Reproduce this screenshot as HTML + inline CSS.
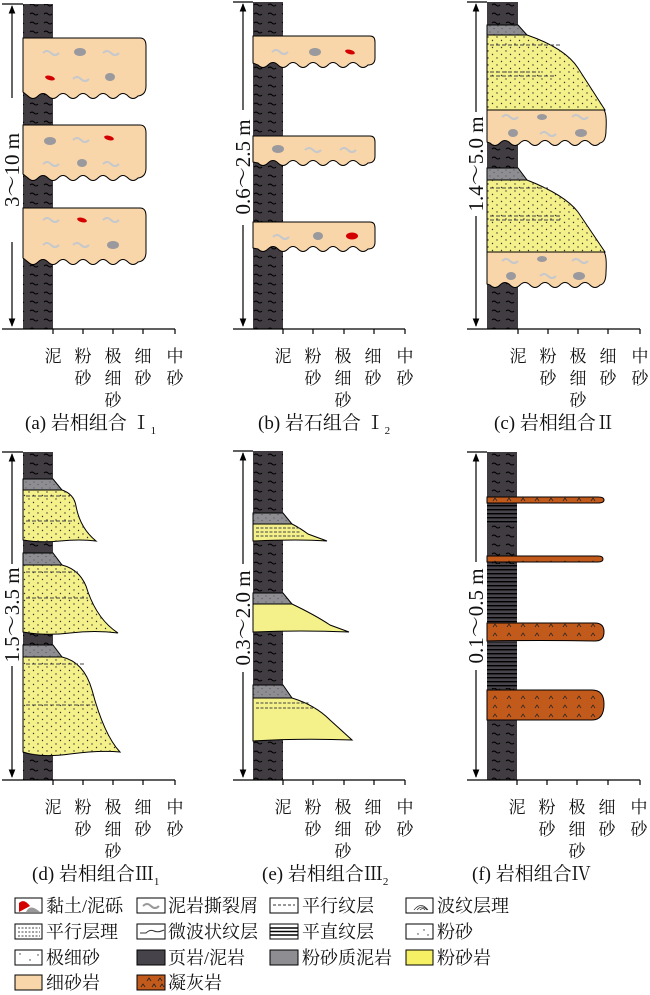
<!DOCTYPE html>
<html><head><meta charset="utf-8"><style>
html,body{margin:0;padding:0;background:#fff}
svg{display:block}
text{font-family:"Liberation Serif","Noto Serif CJK SC",serif;fill:#111}
</style></head><body>
<svg width="650" height="995" viewBox="0 0 650 995" xmlns="http://www.w3.org/2000/svg">
<defs>
<pattern id="sh" width="14" height="9" patternUnits="userSpaceOnUse">
<rect width="14" height="9" fill="#403c42"/>
<path d="M2 5 q2 -2 4 0 t4 0" stroke="#000" stroke-width="1.1" fill="none"/>
</pattern>
<pattern id="dots" width="9" height="7" patternUnits="userSpaceOnUse">
<circle cx="2" cy="2" r="0.7" fill="#333"/><circle cx="6.5" cy="5.5" r="0.7" fill="#333"/>
</pattern>
<pattern id="gd" width="8" height="6" patternUnits="userSpaceOnUse">
<rect width="8" height="6" fill="#8e8d92"/><circle cx="2" cy="2" r="0.6" fill="#555"/><circle cx="6" cy="4.5" r="0.6" fill="#555"/>
</pattern>
<pattern id="tf" width="14" height="9" patternUnits="userSpaceOnUse">
<rect width="14" height="9" fill="#c25a1c"/>
<path d="M3 6 l2 -3 l2 3" stroke="#222" stroke-width="0.7" fill="none"/>
</pattern>
<pattern id="pl" width="10" height="4" patternUnits="userSpaceOnUse">
<rect width="10" height="4" fill="#47434a"/><rect y="1" width="10" height="1.4" fill="#000"/>
</pattern>
<marker id="ah" viewBox="0 0 10 10" refX="9" refY="5" markerWidth="7" markerHeight="7" orient="auto-start-reverse"><path d="M0 1 L10 5 L0 9 Z" fill="#000"/></marker>
</defs>

<g stroke="#000" stroke-width="1">
<rect x="23" y="4" width="30" height="325" fill="url(#sh)" stroke="none"/>
<path d="M23 38 H140 q6 0 6 8 V86 q0 9 -8 10 q-5 5 -10 0 t-10 0 t-10 0 t-10 0 t-10 0 t-10 0 t-10 0 t-10 0 t-10 0 t-10 0 t-10 0 L23 92 Z" fill="#f9d6a9"/>
<path d="M23 125 H140 q6 0 6 8 V168 q0 9 -8 10 q-5 5 -10 0 t-10 0 t-10 0 t-10 0 t-10 0 t-10 0 t-10 0 t-10 0 t-10 0 t-10 0 t-10 0 L23 174 Z" fill="#f9d6a9"/>
<path d="M23 208 H140 q6 0 6 8 V252 q0 9 -8 10 q-5 5 -10 0 t-10 0 t-10 0 t-10 0 t-10 0 t-10 0 t-10 0 t-10 0 t-10 0 t-10 0 t-10 0 L23 258 Z" fill="#f9d6a9"/>
<rect x="253" y="2" width="30" height="327" fill="url(#sh)" stroke="none"/>
<path d="M253 36 H370 q5 0 5 6 V58 q0 7 -7 7 q-5 5 -10 0 t-10 0 t-10 0 t-10 0 t-10 0 t-10 0 t-10 0 t-10 0 t-10 0 t-10 0 t-10 0 L253 63 Z" fill="#f9d6a9"/>
<path d="M253 136 H370 q5 0 5 6 V156 q0 7 -7 7 q-5 5 -10 0 t-10 0 t-10 0 t-10 0 t-10 0 t-10 0 t-10 0 t-10 0 t-10 0 t-10 0 t-10 0 L253 162 Z" fill="#f9d6a9"/>
<path d="M253 222 H370 q5 0 5 6 V242 q0 7 -7 7 q-5 5 -10 0 t-10 0 t-10 0 t-10 0 t-10 0 t-10 0 t-10 0 t-10 0 t-10 0 t-10 0 t-10 0 L253 248 Z" fill="#f9d6a9"/>
<rect x="487" y="2" width="31" height="327" fill="url(#sh)" stroke="none"/>
<path d="M487 25 H518 L527 35 H487 Z" fill="url(#gd)"/>
<path d="M487 35 H527 Q565 48 578 68 L605 110 H487 Z" fill="#f4f08a"/>
<path d="M487 35 H527 Q565 48 578 68 L605 110 H487 Z" fill="url(#dots)" stroke="none"/>
<path d="M490 45 H560 M490 72 H540 M490 76 H555" stroke="#444" stroke-dasharray="4 2"/>
<path d="M487 110 H604 q3 4 2 20 q0 12 -6 13 q-5 5 -10 0 t-10 0 t-10 0 t-10 0 t-10 0 t-10 0 t-10 0 t-10 0 t-10 0 t-10 0 t-10 0 L487 142 Z" fill="#f9d6a9"/>
<path d="M487 168 H518 L527 180 H487 Z" fill="url(#gd)"/>
<path d="M487 180 H527 Q565 195 578 212 L605 252 H487 Z" fill="#f4f08a"/>
<path d="M487 180 H527 Q565 195 578 212 L605 252 H487 Z" fill="url(#dots)" stroke="none"/>
<path d="M490 188 H550 M490 216 H560 M490 220 H560" stroke="#444" stroke-dasharray="4 2"/>
<path d="M487 252 H604 q3 4 2 20 q0 12 -6 13 q-5 5 -10 0 t-10 0 t-10 0 t-10 0 t-10 0 t-10 0 t-10 0 t-10 0 t-10 0 t-10 0 t-10 0 L487 284 Z" fill="#f9d6a9"/>
<rect x="23" y="452" width="30" height="328" fill="url(#sh)" stroke="none"/>
<path d="M23 479 H53 L62 490 H23 Z" fill="url(#gd)"/>
<path d="M23 490 H62 Q74 494 76 506 Q80 528 96 541 Q80 539 60 541 T23 540 Z" fill="#f4f08a"/>
<path d="M23 490 H62 Q74 494 76 506 Q80 528 96 541 Q80 539 60 541 T23 540 Z" fill="url(#dots)" stroke="none"/>
<path d="M23 553 H53 L62 565 H23 Z" fill="url(#gd)"/>
<path d="M23 565 H62 Q82 570 88 592 Q98 620 118 633 Q95 630 70 633 T23 632 Z" fill="#f4f08a"/>
<path d="M23 565 H62 Q82 570 88 592 Q98 620 118 633 Q95 630 70 633 T23 632 Z" fill="url(#dots)" stroke="none"/>
<path d="M23 645 H53 L62 657 H23 Z" fill="url(#gd)"/>
<path d="M23 657 H62 Q84 662 92 690 Q104 735 120 752 Q100 750 70 754 T23 752 Z" fill="#f4f08a"/>
<path d="M23 657 H62 Q84 662 92 690 Q104 735 120 752 Q100 750 70 754 T23 752 Z" fill="url(#dots)" stroke="none"/>
<path d="M26 496 H70 M26 521 H75 M26 572 H80 M26 598 H88 M26 664 H85 M26 705 H95" stroke="#444" stroke-dasharray="4 2"/>
<rect x="253" y="451" width="30" height="329" fill="url(#sh)" stroke="none"/>
<path d="M253 513 H283 L292 524 H253 Z" fill="url(#gd)"/>
<path d="M253 524 H292 Q300 528 308 534 L327 541 Q300 539 253 541 Z" fill="#f4f08a"/>
<path d="M256 528 H300 M256 532 H300 M256 536 H305" stroke="#444" stroke-dasharray="3 1.5"/>
<path d="M253 593 H283 L292 604 H253 Z" fill="url(#gd)"/>
<path d="M253 604 H292 Q315 615 330 625 L349 632 Q300 630 253 632 Z" fill="#f4f08a"/>
<path d="M253 685 H283 L292 698 H253 Z" fill="url(#gd)"/>
<path d="M253 698 H292 Q315 705 330 720 L352 740 Q300 738 253 741 Z" fill="#f4f08a"/>
<path d="M256 703 H310 M256 708 H315" stroke="#444" stroke-dasharray="3 1.5"/>
<rect x="487" y="452" width="30" height="328" fill="url(#sh)" stroke="none"/>
<rect x="487" y="504" width="30" height="20" fill="url(#pl)" stroke="none"/>
<rect x="487" y="564" width="30" height="58" fill="url(#pl)" stroke="none"/>
<rect x="487" y="642" width="30" height="46" fill="url(#pl)" stroke="none"/>
<path d="M487 497 H598 q6 0 6 3 q0 3 -6 3 H487 Z" fill="url(#tf)"/>
<path d="M487 556 H598 q5 0 5 3 q0 3 -5 3 H487 Z" fill="url(#tf)"/>
<path d="M487 623 H595 q9 0 9 9 q0 9 -9 9 Q540 640 487 641 Z" fill="url(#tf)"/>
<path d="M487 690 H592 q12 0 12 14 q0 16 -12 16 Q540 720 487 720 Z" fill="url(#tf)"/>
</g>

<g>
<g fill="#9a999e">
<ellipse cx="80" cy="52" rx="6" ry="4"/><ellipse cx="110" cy="77" rx="5" ry="4"/>
<ellipse cx="50" cy="141" rx="6" ry="4"/><ellipse cx="82" cy="163" rx="5" ry="4"/>
<ellipse cx="113" cy="245" rx="6" ry="4"/>
<ellipse cx="315" cy="52" rx="6" ry="4"/><ellipse cx="278" cy="149" rx="6" ry="4"/><ellipse cx="318" cy="236" rx="5" ry="4"/>
<ellipse cx="542" cy="117" rx="5" ry="3"/><ellipse cx="513" cy="133" rx="5" ry="4"/><ellipse cx="581" cy="133" rx="6" ry="4"/>
<ellipse cx="542" cy="259" rx="5" ry="3"/><ellipse cx="511" cy="276" rx="5" ry="4"/><ellipse cx="579" cy="276" rx="6" ry="4"/>
</g>
<g fill="#d40000">
<ellipse cx="50" cy="78" rx="5" ry="2.2" transform="rotate(15 50 78)"/>
<ellipse cx="109" cy="138" rx="5" ry="2.2" transform="rotate(15 109 138)"/>
<ellipse cx="82" cy="220" rx="5" ry="2.2" transform="rotate(15 82 220)"/>
<ellipse cx="350" cy="52" rx="5" ry="2.2" transform="rotate(15 350 52)"/>
<ellipse cx="352" cy="236" rx="6" ry="3.5"/>
</g>
<g stroke="#c5c8cc" stroke-width="2" fill="none">
<path d="M43 53 q4 -4 8 0 t8 0 M103 53 q4 -4 8 0 t8 0 M73 79 q4 -4 8 0 t8 0"/>
<path d="M73 140 q4 -4 8 0 t8 0 M43 164 q4 -4 8 0 t8 0 M103 164 q4 -4 8 0 t8 0"/>
<path d="M43 220 q4 -4 8 0 t8 0 M103 220 q4 -4 8 0 t8 0 M43 245 q4 -4 8 0 t8 0 M73 245 q4 -4 8 0 t8 0"/>
<path d="M272 52 q4 -4 8 0 t8 0 M305 150 q4 -4 8 0 t8 0 M340 150 q4 -4 8 0 t8 0 M273 237 q4 -4 8 0 t8 0"/>
<path d="M502 117 q4 -4 8 0 t8 0 M572 117 q4 -4 8 0 t8 0 M540 134 q4 -4 8 0 t8 0"/>
<path d="M502 261 q4 -4 8 0 t8 0 M572 261 q4 -4 8 0 t8 0 M540 276 q4 -4 8 0 t8 0"/>
</g>
</g>

<g stroke="#000" stroke-width="1.2" fill="none">
<path d="M2 329 H175 M53 329 v5 M83 329 v5 M113 329 v5 M143 329 v5 M175 329 v5"/>
<path d="M233 329 H405 M283 329 v5 M313 329 v5 M344 329 v5 M374 329 v5 M405 329 v5"/>
<path d="M467 329 H640 M518 329 v5 M548 329 v5 M578 329 v5 M608 329 v5 M640 329 v5"/>
<path d="M2 780 H175 M53 780 v5 M83 780 v5 M113 780 v5 M143 780 v5 M175 780 v5"/>
<path d="M233 780 H405 M283 780 v5 M313 780 v5 M344 780 v5 M374 780 v5 M405 780 v5"/>
<path d="M467 780 H640 M517 780 v5 M547 780 v5 M577 780 v5 M608 780 v5 M640 780 v5"/>
<path d="M2 4 H23 M233 2 H253 M467 2 H487 M2 452 H23 M233 451 H253 M467 452 H487"/>
<path d="M12 6 V326" marker-start="url(#ah)" marker-end="url(#ah)"/>
<path d="M243 4 V326" marker-start="url(#ah)" marker-end="url(#ah)"/>
<path d="M476 4 V326" marker-start="url(#ah)" marker-end="url(#ah)"/>
<path d="M12 454 V777" marker-start="url(#ah)" marker-end="url(#ah)"/>
<path d="M243 453 V777" marker-start="url(#ah)" marker-end="url(#ah)"/>
<path d="M476 454 V777" marker-start="url(#ah)" marker-end="url(#ah)"/>
</g>
<g fill="#fff">
<rect x="3" y="98" width="18" height="144"/><rect x="234" y="110" width="18" height="115"/><rect x="467" y="112" width="18" height="104"/>
<rect x="3" y="564" width="18" height="102"/><rect x="234" y="564" width="18" height="108"/><rect x="467" y="562" width="18" height="108"/>
</g>
<g font-size="21" text-anchor="middle">
<text transform="translate(19 170) rotate(-90)">3～10 m</text>
<text transform="translate(250 167) rotate(-90)">0.6～2.5 m</text>
<text transform="translate(483 164) rotate(-90)">1.4～5.0 m</text>
<text transform="translate(19 615) rotate(-90)">1.5～3.5 m</text>
<text transform="translate(250 618) rotate(-90)">0.3～2.0 m</text>
<text transform="translate(483 616) rotate(-90)">0.1～0.5 m</text>
</g>

<g font-size="17" text-anchor="middle">
<g id="lt">
<text x="53" y="362">泥</text>
<text x="83" y="362">粉</text><text x="83" y="384">砂</text>
<text x="113" y="362">极</text><text x="113" y="384">细</text><text x="113" y="406">砂</text>
<text x="143" y="362">细</text><text x="143" y="384">砂</text>
<text x="175" y="362">中</text><text x="175" y="384">砂</text>
</g>
<use href="#lt" x="230"/><use href="#lt" x="465"/>
<use href="#lt" y="451"/><use href="#lt" x="230" y="451"/><use href="#lt" x="464" y="451"/>
</g>
<g font-size="19">
<text x="25" y="429">(a) 岩相组合 Ⅰ<tspan font-size="11" dy="5">1</tspan></text>
<text x="258" y="429">(b) 岩石组合 Ⅰ<tspan font-size="11" dy="5">2</tspan></text>
<text x="494" y="429">(c) 岩相组合Ⅱ</text>
<text x="32" y="880">(d) 岩相组合Ⅲ<tspan font-size="11" dy="5">1</tspan></text>
<text x="262" y="880">(e) 岩相组合Ⅲ<tspan font-size="11" dy="5">2</tspan></text>
<text x="472" y="880">(f) 岩相组合Ⅳ</text>
</g>

<g stroke="#000" stroke-width="1">
<rect x="15" y="898" width="27" height="15" fill="#fff"/>
<rect x="137" y="898" width="28" height="15" fill="#fff"/>
<rect x="270" y="898" width="28" height="15" fill="#fff"/>
<rect x="406" y="898" width="27" height="15" fill="#fff"/>
<rect x="15" y="924" width="27" height="15" fill="#fff"/>
<rect x="137" y="924" width="28" height="15" fill="#fff"/>
<rect x="270" y="924" width="28" height="15" fill="#fff"/>
<rect x="406" y="924" width="27" height="15" fill="#fff"/>
<rect x="15" y="950" width="27" height="15" fill="#fff"/>
<rect x="137" y="950" width="28" height="15" fill="#47434a"/>
<rect x="270" y="950" width="28" height="15" fill="#8e8d92"/>
<rect x="406" y="950" width="27" height="15" fill="#f6f064"/>
<rect x="15" y="975" width="27" height="15" fill="#f9d6a9"/>
<rect x="137" y="975" width="28" height="15" fill="#c25a1c"/>
</g>
<path d="M19 912 L19 903 Q24 898 30 906 Z" fill="#d40000"/>
<path d="M26 912 Q30 903 40 912 Z" fill="#999"/>
<path d="M143 906 q4 -4 8 0 t8 0" stroke="#999" stroke-width="2" fill="none"/>
<path d="M273 905 H295" stroke="#333" stroke-dasharray="3 2"/>
<path d="M414 910 q7 -9 14 0 M417 910 q5 -6 10 0 M420 910 q3 -3 5 0" stroke="#333" stroke-width="0.8" fill="none"/>
<path d="M18 928 H40 M18 932 H40 M18 936 H40" stroke="#444" stroke-dasharray="2 1.5"/>
<path d="M140 933 h6 q4 -4 8 -2 q4 2 10 -1" stroke="#333" fill="none"/>
<path d="M270 928 H298 M270 931.5 H298 M270 935 H298" stroke="#000" stroke-width="1.6"/>
<g fill="#333"><circle cx="418" cy="934" r="0.7"/><circle cx="424" cy="930" r="0.7"/><circle cx="428" cy="935" r="0.7"/>
<circle cx="20" cy="954" r="0.7"/><circle cx="30" cy="960" r="0.7"/><circle cx="38" cy="955" r="0.7"/></g>
<path d="M141 987 l2 -3 l2 3 M152 987 l2 -3 l2 3 M160 987 l2 -3 l2 3 M147 981 l2 -3 l2 3 M158 981 l2 -3 l2 3" stroke="#222" stroke-width="0.8" fill="none"/>
<g font-size="18">
<text x="46" y="912">黏土/泥砾</text><text x="168" y="912">泥岩撕裂屑</text><text x="302" y="912">平行纹层</text><text x="437" y="912">波纹层理</text>
<text x="46" y="938">平行层理</text><text x="168" y="938">微波状纹层</text><text x="302" y="938">平直纹层</text><text x="437" y="938">粉砂</text>
<text x="46" y="964">极细砂</text><text x="168" y="964">页岩/泥岩</text><text x="302" y="964">粉砂质泥岩</text><text x="437" y="964">粉砂岩</text>
<text x="46" y="989">细砂岩</text><text x="168" y="989">凝灰岩</text>
</g>
</svg>
</body></html>
